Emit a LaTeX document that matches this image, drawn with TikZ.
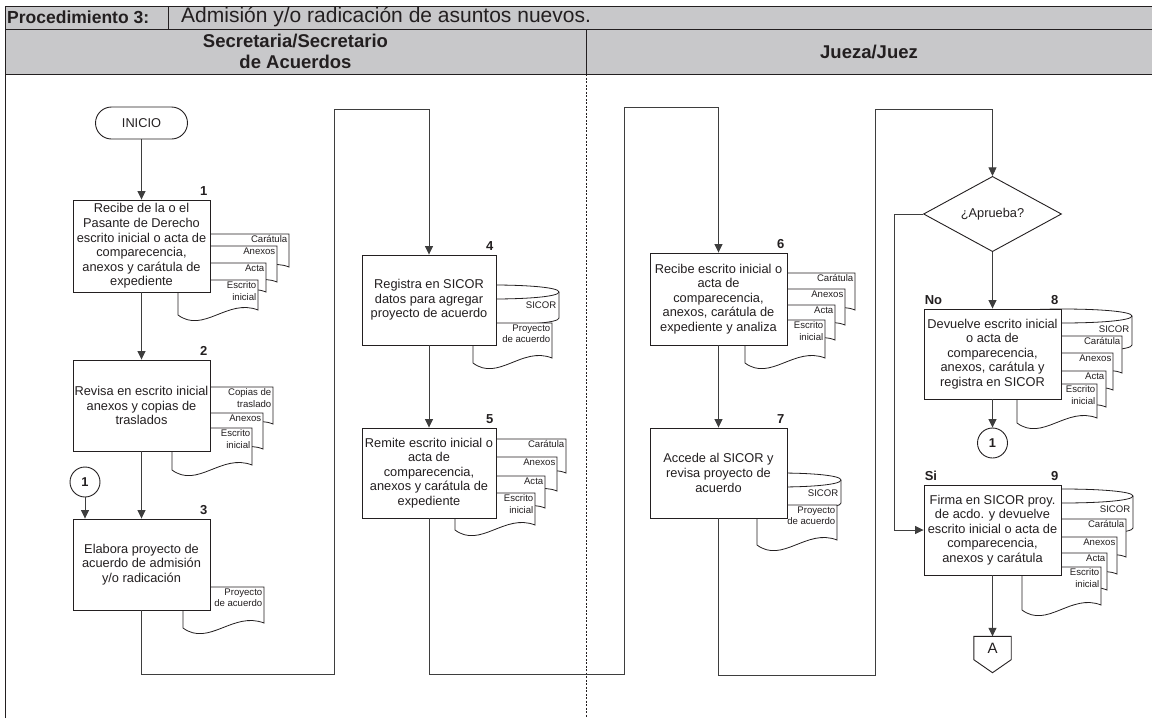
\documentclass[tikz,border=0pt]{standalone}
\usepackage{fontspec}
\setmainfont{Liberation Sans}
\usetikzlibrary{shapes.geometric,arrows.meta,calc}

\definecolor{ink}{HTML}{231F20}
\definecolor{hdr}{HTML}{C8C8CA}
\definecolor{wire}{HTML}{3E3E3E}

\tikzset{
  stepbox/.style={draw=ink, line width=0.9pt, fill=white, minimum width=137pt,
    minimum height=91pt, align=center, inner sep=0pt, text=ink,
    font=\fontsize{12.8}{14.6}\selectfont},
  stepnum/.style={anchor=south east, inner sep=1pt, yshift=3pt, xshift=-2pt, text=ink,
    font=\bfseries\fontsize{13}{14}\selectfont},
  branch/.style={anchor=south west, inner sep=1pt, yshift=3pt, text=ink,
    font=\bfseries\fontsize{13}{14}\selectfont},
  flow/.style={draw=wire, line width=0.8pt, -{Triangle[length=8.5pt,width=8pt]}},
  artline/.style={draw=ink, line width=0.8pt, fill=white},
  doclabel/.style={inner sep=1pt, align=right, text=ink,
    font=\fontsize{9.6}{11.4}\selectfont},
  term/.style={draw=ink, line width=0.9pt, rounded corners=16pt, minimum width=92pt,
    minimum height=32pt, inner sep=0pt, text=ink, font=\fontsize{12.8}{14.6}\selectfont},
  decision/.style={diamond, draw=ink, line width=0.9pt, fill=white, minimum width=138pt,
    minimum height=69pt, inner sep=0pt, text=ink, font=\fontsize{12.8}{14.6}\selectfont},
  conn/.style={circle, draw=ink, line width=0.9pt, fill=white, minimum size=30pt,
    inner sep=0pt, text=ink, font=\bfseries\fontsize{12.8}{14}\selectfont},
  hdrtext/.style={inner sep=0pt, text=ink, align=center,
    font=\bfseries\fontsize{18.5}{21}\selectfont},
  rule/.style={draw=ink, line width=1pt}
}

% paper sheet with wavy lower edge: name, left, top, width, height, label
\newcommand\sheet[6]{%
  \path[artline] (#2,#3) -- (#2+#4,#3) -- (#2+#4,#3+#5)
    .. controls (#2+0.62*#4,#3+#5-12) and (#2+0.32*#4,#3+#5+24) .. (#2,#3+#5+5) -- cycle;
  \node[doclabel, anchor=north east] (#1) at (#2+#4-0.5,#3+0.5) {#6};
}

% stored-data drum: name, left, right, top y, bottom y, half height, label
\newcommand\drum[7]{%
  \path[artline] (#2,#4) -- (#2,#5)
    .. controls (#2,#5+1.33*#6) and (#3,#5+1.33*#6) .. (#3,#5) -- (#3,#4)
    .. controls (#3,#4-1.33*#6) and (#2,#4-1.33*#6) .. (#2,#4) -- cycle;
  \draw[artline, fill=none] (#2,#4) .. controls (#2,#4+1.33*#6) and (#3,#4+1.33*#6) .. (#3,#4);
  \node[doclabel, anchor=east] (#1) at (#3-1.5,#4+#6+6) {#7};
}

\begin{document}
\begin{tikzpicture}[x=1pt,y=-1pt]
\useasboundingbox (0,0) rectangle (1152,718);

% ---------- table header ----------
\fill[hdr] (5,6) rectangle (1152,74);
\draw[rule] (5,718) -- (5,6) -- (1152,6);
\draw[rule] (5,29) -- (1152,29);
\draw[rule] (5,74) -- (1152,74);
\draw[rule] (168,6) -- (168,29);
\draw[rule] (586,29) -- (586,74);
\draw[draw=ink, line width=0.8pt, dash pattern=on 2pt off 1.5pt] (586,74) -- (586,718);

\node[inner sep=0pt, anchor=west, text=ink, font=\bfseries\fontsize{17.5}{20}\selectfont]
  (proc) at (7,17) {Procedimiento 3:};
\node[inner sep=0pt, anchor=west, text=ink, font=\fontsize{21}{22}\selectfont]
  (title) at (181,17) {Admisión y/o radicación de asuntos nuevos.};
\node[hdrtext] (laneA) at (295.5,51.5) {Secretaria/Secretario\\de Acuerdos};
\node[hdrtext] (laneB) at (869,51.5) {Jueza/Juez};

% ---------- documents beside the steps ----------
% step 1
\sheet{s1a}{209}{234}{80}{33}{Carátula}
\sheet{s1b}{197}{246}{80}{36}{Anexos}
\sheet{s1c}{186}{263}{80}{29}{Acta}
\sheet{s1d}{178}{280}{80}{30}{Escrito\\inicial}
% step 2
\sheet{s2a}{193}{387}{80}{37}{Copias de\\traslado}
\sheet{s2b}{183}{413}{80}{36}{Anexos}
\sheet{s2c}{172}{428}{80}{37}{Escrito\\inicial}
% step 3
\sheet{s3a}{183}{587}{81}{36}{Proyecto\\de acuerdo}
% step 4
\drum{s4a}{430}{559}{292}{318}{7}{SICOR}
\sheet{s4b}{473}{323}{79}{35}{Proyecto\\de acuerdo}
% step 5
\sheet{s5a}{486}{439}{80}{34}{Carátula}
\sheet{s5b}{477}{457}{80}{34}{Anexos}
\sheet{s5c}{465}{476}{80}{32}{Acta}
\sheet{s5d}{455}{493}{80}{32}{Escrito\\inicial}
% step 6
\sheet{s6a}{775}{273}{80}{37}{Carátula}
\sheet{s6b}{765}{289}{80}{36}{Anexos}
\sheet{s6c}{755}{305}{80}{35}{Acta}
\sheet{s6d}{745}{320}{80}{38}{Escrito\\inicial}
% step 7
\drum{s7a}{720}{841}{480}{503}{7}{SICOR}
\sheet{s7b}{757}{505}{80}{35}{Proyecto\\de acuerdo}
% step 8
\drum{s8a}{995}{1132}{316}{345}{7}{SICOR}
\sheet{s8b}{1042}{336}{80}{37}{Carátula}
\sheet{s8c}{1033}{353}{80}{37}{Anexos}
\sheet{s8d}{1026}{371}{80}{36}{Acta}
\sheet{s8e}{1017}{384}{80}{34}{Escrito\\inicial}
% step 9
\drum{s9a}{995}{1133}{496}{528}{7}{SICOR}
\sheet{s9b}{1046}{519}{80}{38}{Carátula}
\sheet{s9c}{1037}{537}{80}{37}{Anexos}
\sheet{s9d}{1027}{553}{80}{37}{Acta}
\sheet{s9e}{1022}{567}{79}{38}{Escrito\\inicial}

% ---------- flow symbols ----------
\node[term] (start) at (141.5,123) {INICIO};

\node[stepbox, minimum height=92pt] (b1) at (141.5,246)
  {Recibe de la o el\\Pasante de Derecho\\escrito inicial o acta de\\comparecencia,\\anexos y carátula de\\expediente};
\node[stepbox] (b2) at (141.5,405.5) {Revisa en escrito inicial\\anexos y copias de\\traslados};
\node[stepbox] (b3) at (141.5,564.5) {Elabora proyecto de\\acuerdo de admisión\\y/o radicación};
\node[stepbox, minimum width=134pt, minimum height=90pt] (b4) at (429,300)
  {Registra en SICOR\\datos para agregar\\proyecto de acuerdo};
\node[stepbox, minimum width=134pt, minimum height=90pt] (b5) at (429,473)
  {Remite escrito inicial o\\acta de\\comparecencia,\\anexos y carátula de\\expediente};
\node[stepbox, minimum height=92pt] (b6) at (718.5,299)
  {Recibe escrito inicial o\\acta de\\comparecencia,\\anexos, carátula de\\expediente y analiza};
\node[stepbox, minimum height=90pt] (b7) at (718.5,473) {Accede al SICOR y\\revisa proyecto de\\acuerdo};
\node[decision] (dec) at (992.5,214) {¿Aprueba?};
\node[stepbox, minimum height=90pt] (b8) at (992.5,354)
  {Devuelve escrito inicial\\o acta de\\comparecencia,\\anexos, carátula y\\registra en SICOR};
\node[stepbox, minimum height=90pt] (b9) at (992.5,530)
  {Firma en SICOR proy.\\de acdo. y devuelve\\escrito inicial o acta de\\comparecencia,\\anexos y carátula};

\node[conn] (c1) at (85,482) {1};
\node[conn] (c2) at (992.5,443) {1};

\node[inner sep=0pt, minimum width=37pt, minimum height=23pt, text=ink,
  font=\fontsize{15}{16}\selectfont] (offA) at (992.5,648) {A};
\draw[draw=ink, line width=0.9pt] (offA.north west) -- (offA.north east) -- (offA.south east)
  -- ($(offA.south)+(0,13)$) -- (offA.south west) -- cycle;

% step numbers and branch labels
\foreach \b/\n in {b1/1,b2/2,b3/3,b4/4,b5/5,b6/6,b7/7,b8/8,b9/9}
  \node[stepnum] (num\n) at (\b.north east) {\n};
\node[branch] (no) at (b8.north west) {No};
\node[branch] (si) at (b9.north west) {Si};

% ---------- connectors ----------
\coordinate (ja) at (334,674); \coordinate (jb) at (334,109);
\coordinate (ka) at (624,674); \coordinate (kb) at (624,107);
\coordinate (ma) at (875,675); \coordinate (mb) at (875,109);
\coordinate (na) at (894,214);

\draw[flow] (start) -- (b1);
\draw[flow] (b1) -- (b2);
\draw[flow] (b2) -- (b3);
\draw[flow] (c1.south) -- (c1.south |- b3.north);
\draw[flow] (b3.south) |- (ja) -- (jb) -| (b4.north);
\draw[flow] (b4) -- (b5);
\draw[flow] (b5.south) |- (ka) -- (kb) -| (b6.north);
\draw[flow] (b6) -- (b7);
\draw[flow] (b7.south) |- (ma) -- (mb) -| (dec.north);
\draw[flow] (dec) -- (b8);
\draw[flow] (b8) -- (c2);
\draw[flow] (dec.west) -- (na) |- (b9.west);
\draw[flow] (b9) -- (offA);
\end{tikzpicture}
\end{document}
